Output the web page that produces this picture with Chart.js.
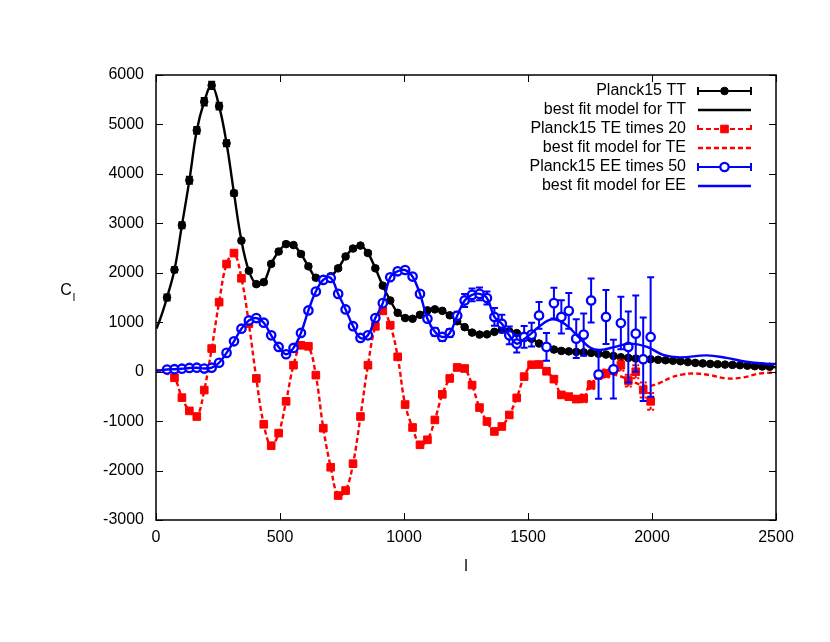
<!DOCTYPE html>
<html>
<head>
<meta charset="utf-8">
<script src="https://cdn.jsdelivr.net/npm/chart.js@4.4.1/dist/chart.umd.min.js"></script>
<style>
  html, body { margin: 0; padding: 0; background: #fff; }
</style>
</head>
<body>
<canvas id="cl" width="830" height="642"></canvas>
<script>
// multipole bin centres (bins of width 30 starting at l = 30)
const binL = Array.from({ length: 82 }, (_, k) => 44.5 + 30 * k);

// Planck15 TT, bins 0..81
const ttValues = [
  1500, 2060, 2960, 3870, 4880, 5460, 5790, 5370, 4620, 3610,
  2650, 2040, 1770, 1810, 2180, 2430, 2580, 2560, 2380, 2130,
  1900, 1870, 1930, 2090, 2330, 2490, 2550, 2400, 2090, 1740,
  1440, 1190, 1085, 1070, 1150, 1240, 1260, 1230, 1140, 1020,
  900, 790, 750, 755, 805, 850, 815, 780, 720, 665,
  570, 500, 447, 420, 410, 400, 390, 380, 362, 346,
  318, 292, 278, 265, 257, 250, 240, 231, 221, 211,
  194, 177, 167, 157, 150, 143, 137, 131, 121, 111,
  105, 99
];
const ttErrors = [
  60, 50, 60, 70, 70, 75, 75, 70, 60, 50,
  35, 35, 35, 35, 35, 35, 35, 35, 35, 35,
  35, 35, 35, 35, 35, 35, 35, 35, 35, 35,
  25, 25, 25, 25, 25, 25, 25, 25, 25, 25,
  25, 25, 25, 25, 25, 25, 25, 25, 25, 25,
  15, 15, 15, 15, 15, 15, 15, 15, 15, 15,
  15, 15, 15, 15, 15, 15, 15, 15, 15, 15,
  15, 15, 15, 15, 15, 15, 15, 15, 15, 15,
  15, 15
];

// Planck15 TE x20, bins 1..65
const teValues = [
  -123, -525, -793, -907, -372, 467, 1406, 2177, 2398, 1889,
  970, -137, -1064, -1498, -1243, -600, 131, 533, 513, -70,
  -1143, -1933, -2505, -2404, -1861, -907, 131, 916, 1230, 940,
  300, -665, -1129, -1479, -1378, -976, -459, -137, 85, 64,
  -271, -726, -1008, -1209, -1109, -875, -530, -100, 140, 145,
  10, -151, -470, -505, -555, -540, -271, -70, -36, 32,
  131, -180, -2, -370, -600
];
const teErrors = [
  20, 20, 20, 20, 20, 20, 20, 20, 20, 20,
  20, 20, 20, 20, 20, 20, 20, 20, 20, 20,
  25, 25, 25, 25, 25, 25, 25, 25, 25, 25,
  25, 25, 25, 25, 25, 25, 25, 25, 25, 25,
  40, 40, 40, 40, 40, 40, 40, 40, 40, 40,
  60, 60, 60, 60, 60, 80, 80, 80, 80, 80,
  110, 120, 130, 150, 170
];

// Planck15 EE x50, bins 0..65
const eeValues = [
  44, 50, 60, 75, 80, 63, 80, 180, 380, 614,
  869, 1036, 1084, 990, 735, 500, 352, 480, 783, 1238,
  1620, 1855, 1895, 1573, 1258, 920, 682, 735, 1085, 1386,
  1910, 2030, 2056, 1923, 1573, 1070, 805, 702, 783, 1131,
  1440, 1553, 1573, 1489, 1107, 970, 735, 567, 702, 749,
  1137, 501, 1386, 1107, 1230, 668, 749, 1440, -56, 1107,
  50, 983, 501, 769, 252, 702
];
const eeErrors = [
  25, 25, 25, 25, 25, 25, 25, 25, 25, 25,
  25, 25, 25, 25, 25, 25, 25, 25, 25, 25,
  25, 25, 25, 25, 25, 25, 25, 25, 25, 25,
  50, 50, 50, 50, 50, 50, 80, 80, 80, 80,
  130, 130, 130, 130, 180, 180, 180, 180, 220, 240,
  270, 280, 310, 335, 360, 390, 425, 445, 490, 547,
  593, 530, 718, 770, 845, 1207
];

// best fit models: low-l start, the binned part, high-l tail
const ttModelLowL = [2, 15, 30];
const ttModelLow = [870, 1040, 1260];
const ttModelEndL = [2500];
const ttModelEnd = [88];

const teModelLowL = [2, 20, 45];
const teModelLow = [40, 15, -40];
const teModelTailL = [1745, 1780, 1810, 1840, 1870, 1900, 1930, 1960, 1990, 2030, 2075, 2120, 2167, 2234, 2300, 2368, 2435, 2500];
const teModelTail = [-300, -140, -70, -60, -90, -150, -220, -270, -290, -230, -123, -60, -36, -70, -137, -117, -36, -20];

const eeModelLowL = [2, 20];
const eeModelLow = [15, 30];
const eeModelTailL = [1480, 1510, 1560, 1600, 1650, 1700, 1750, 1790, 1850, 1910, 1980, 2045, 2113, 2220, 2300, 2380, 2460, 2500];
const eeModelTail = [640, 760, 970, 1060, 960, 720, 490, 440, 500, 567, 500, 340, 290, 330, 280, 200, 160, 155];

const xTicks = [0, 500, 1000, 1500, 2000, 2500];
const yTicks = [-3000, -2000, -1000, 0, 1000, 2000, 3000, 4000, 5000, 6000];

const FONT = '"Liberation Sans", Arial, Helvetica, sans-serif';
const RED = '#ff0000';
const BLUE = '#0000ff';
const DASH = [5, 3];

function pts(ls, vs) {
  return vs.map((v, i) => ({ x: ls[i], y: v }));
}

const ttPts = pts(binL, ttValues);
const tePts = pts(binL.slice(1), teValues);
const eePts = pts(binL, eeValues);

const ttModelPts = [...pts(ttModelLowL, ttModelLow), ...ttPts, ...pts(ttModelEndL, ttModelEnd)];
const teModelPts = [...pts(teModelLowL, teModelLow), ...tePts.slice(0, 56), ...pts(teModelTailL, teModelTail)];
const eeModelPts = [...pts(eeModelLowL, eeModelLow), ...eePts.slice(0, 48), ...pts(eeModelTailL, eeModelTail)];

// error bars drawn just before each data set's markers
const errorBars = {
  id: 'errorBars',
  beforeDatasetDraw(chart, args) {
    const ds = chart.data.datasets[args.index];
    if (!ds.errors) return;
    const { ctx, chartArea: a, scales: { x, y } } = chart;
    ctx.save();
    ctx.beginPath();
    ctx.rect(a.left, a.top, a.right - a.left, a.bottom - a.top);
    ctx.clip();
    ctx.strokeStyle = ds.borderColor;
    ctx.lineWidth = 2;
    ctx.setLineDash(ds.barDash || []);
    ds.data.forEach((p, i) => {
      const e = ds.errors[i];
      const px = x.getPixelForValue(p.x);
      const y0 = y.getPixelForValue(p.y - e);
      const y1 = y.getPixelForValue(p.y + e);
      ctx.beginPath();
      ctx.moveTo(px, y0); ctx.lineTo(px, y1);
      ctx.moveTo(px - 3.5, y0); ctx.lineTo(px + 3.5, y0);
      ctx.moveTo(px - 3.5, y1); ctx.lineTo(px + 3.5, y1);
      ctx.stroke();
    });
    ctx.restore();
  }
};

// gnuplot style box with inward ticks on all four sides
const frame = {
  id: 'frame',
  afterDatasetsDraw(chart) {
    const { ctx, chartArea: a, scales: { x, y } } = chart;
    ctx.save();
    ctx.strokeStyle = '#000';
    ctx.lineWidth = 1;
    ctx.beginPath();
    xTicks.forEach(v => {
      const px = Math.round(x.getPixelForValue(v)) + 0.5;
      ctx.moveTo(px, a.bottom); ctx.lineTo(px, a.bottom - 7);
      ctx.moveTo(px, a.top); ctx.lineTo(px, a.top + 7);
    });
    yTicks.forEach(v => {
      const py = Math.round(y.getPixelForValue(v)) + 0.5;
      ctx.moveTo(a.left, py); ctx.lineTo(a.left + 7, py);
      ctx.moveTo(a.right, py); ctx.lineTo(a.right - 7, py);
    });
    ctx.stroke();
    ctx.lineWidth = 1.5;
    ctx.strokeRect(a.left, a.top, a.right - a.left, a.bottom - a.top);
    ctx.restore();
  }
};

const keyBox = {
  id: 'keyBox',
  afterDraw(chart) {
    const ctx = chart.ctx;
    const textRight = 686, x0 = 698, x1 = 751, xm = (x0 + x1) / 2;
    ctx.save();
    ctx.font = '16px ' + FONT;
    ctx.textAlign = 'right';
    ctx.textBaseline = 'middle';
    chart.data.datasets.forEach((ds, i) => {
      const yy = 91 + 19 * i;
      ctx.fillStyle = '#000';
      ctx.fillText(ds.label, textRight, yy);
      ctx.strokeStyle = ds.borderColor;
      ctx.lineWidth = ds.errors ? 2 : 2.4;
      ctx.setLineDash(ds.keyDash || []);
      ctx.beginPath();
      ctx.moveTo(x0, yy); ctx.lineTo(x1, yy);
      if (ds.errors) {
        ctx.moveTo(x0, yy - 4); ctx.lineTo(x0, yy + 4);
        ctx.moveTo(x1, yy - 4); ctx.lineTo(x1, yy + 4);
      }
      ctx.stroke();
      ctx.setLineDash([]);
      if (ds.errors) {
        ctx.fillStyle = ds.pointBackgroundColor;
        ctx.strokeStyle = ds.borderColor;
        ctx.lineWidth = ds.pointBorderWidth;
        ctx.beginPath();
        if (ds.pointStyle === 'rect') {
          const s = Math.SQRT1_2 * ds.pointRadius;
          ctx.rect(xm - s, yy - s, 2 * s, 2 * s);
        } else {
          ctx.arc(xm, yy, ds.pointRadius, 0, Math.PI * 2);
        }
        ctx.fill();
        ctx.stroke();
      }
    });
    ctx.restore();
  }
};

const axisTitles = {
  id: 'axisTitles',
  afterDraw(chart) {
    const ctx = chart.ctx;
    ctx.save();
    ctx.fillStyle = '#000';
    ctx.textBaseline = 'middle';
    ctx.textAlign = 'center';
    ctx.font = '16px ' + FONT;
    ctx.fillText('C', 66, 291);
    ctx.font = '11px ' + FONT;
    ctx.fillText('l', 74, 298);
    ctx.font = '16px ' + FONT;
    ctx.fillText('l', 466, 567);
    ctx.restore();
  }
};

new Chart(document.getElementById('cl'), {
  type: 'scatter',
  data: {
    datasets: [
      {
        label: 'Planck15 TT', data: ttPts, errors: ttErrors, order: 6,
        borderColor: '#000', backgroundColor: '#000',
        pointStyle: 'circle', pointRadius: 3.8, pointBorderWidth: 1,
        pointBackgroundColor: '#000', showLine: false
      },
      {
        label: 'best fit model for TT', data: ttModelPts, order: 5,
        borderColor: '#000', borderWidth: 2.4, pointRadius: 0,
        showLine: true, tension: 0.4
      },
      {
        label: 'Planck15 TE times 20', data: tePts, errors: teErrors, order: 4,
        barDash: [3, 2], keyDash: DASH,
        borderColor: RED, backgroundColor: RED,
        pointStyle: 'rect', pointRadius: 5.4, pointBorderWidth: 1,
        pointBackgroundColor: RED, showLine: false
      },
      {
        label: 'best fit model for TE', data: teModelPts, order: 3, keyDash: DASH,
        borderColor: RED, borderWidth: 2.4, borderDash: DASH, pointRadius: 0,
        showLine: true, tension: 0.4
      },
      {
        label: 'Planck15 EE times 50', data: eePts, errors: eeErrors, order: 2,
        borderColor: BLUE, backgroundColor: '#fff',
        pointStyle: 'circle', pointRadius: 4.2, pointBorderWidth: 2.3,
        pointBackgroundColor: '#fff', showLine: false
      },
      {
        label: 'best fit model for EE', data: eeModelPts, order: 1,
        borderColor: BLUE, borderWidth: 2.4, pointRadius: 0,
        showLine: true, tension: 0.4
      }
    ]
  },
  options: {
    responsive: false,
    animation: false,
    layout: { padding: { left: 0, top: 75, right: 54, bottom: 0 } },
    plugins: {
      legend: { display: false },
      tooltip: { enabled: false }
    },
    scales: {
      x: {
        type: 'linear', min: 0, max: 2500,
        ticks: {
          stepSize: 500, padding: 8, maxRotation: 0, autoSkip: false,
          color: '#000', font: { family: FONT, size: 16 },
          callback: v => String(v)
        },
        grid: { display: false, drawTicks: false },
        border: { display: false },
        afterFit: s => { s.height = 122; }
      },
      y: {
        type: 'linear', min: -3000, max: 6000,
        ticks: {
          stepSize: 1000, padding: 12,
          color: '#000', font: { family: FONT, size: 16 },
          callback: v => String(v)
        },
        grid: { display: false, drawTicks: false },
        border: { display: false },
        afterFit: s => { s.width = 156; }
      }
    }
  },
  plugins: [errorBars, frame, keyBox, axisTitles]
});
</script>
</body>
</html>
